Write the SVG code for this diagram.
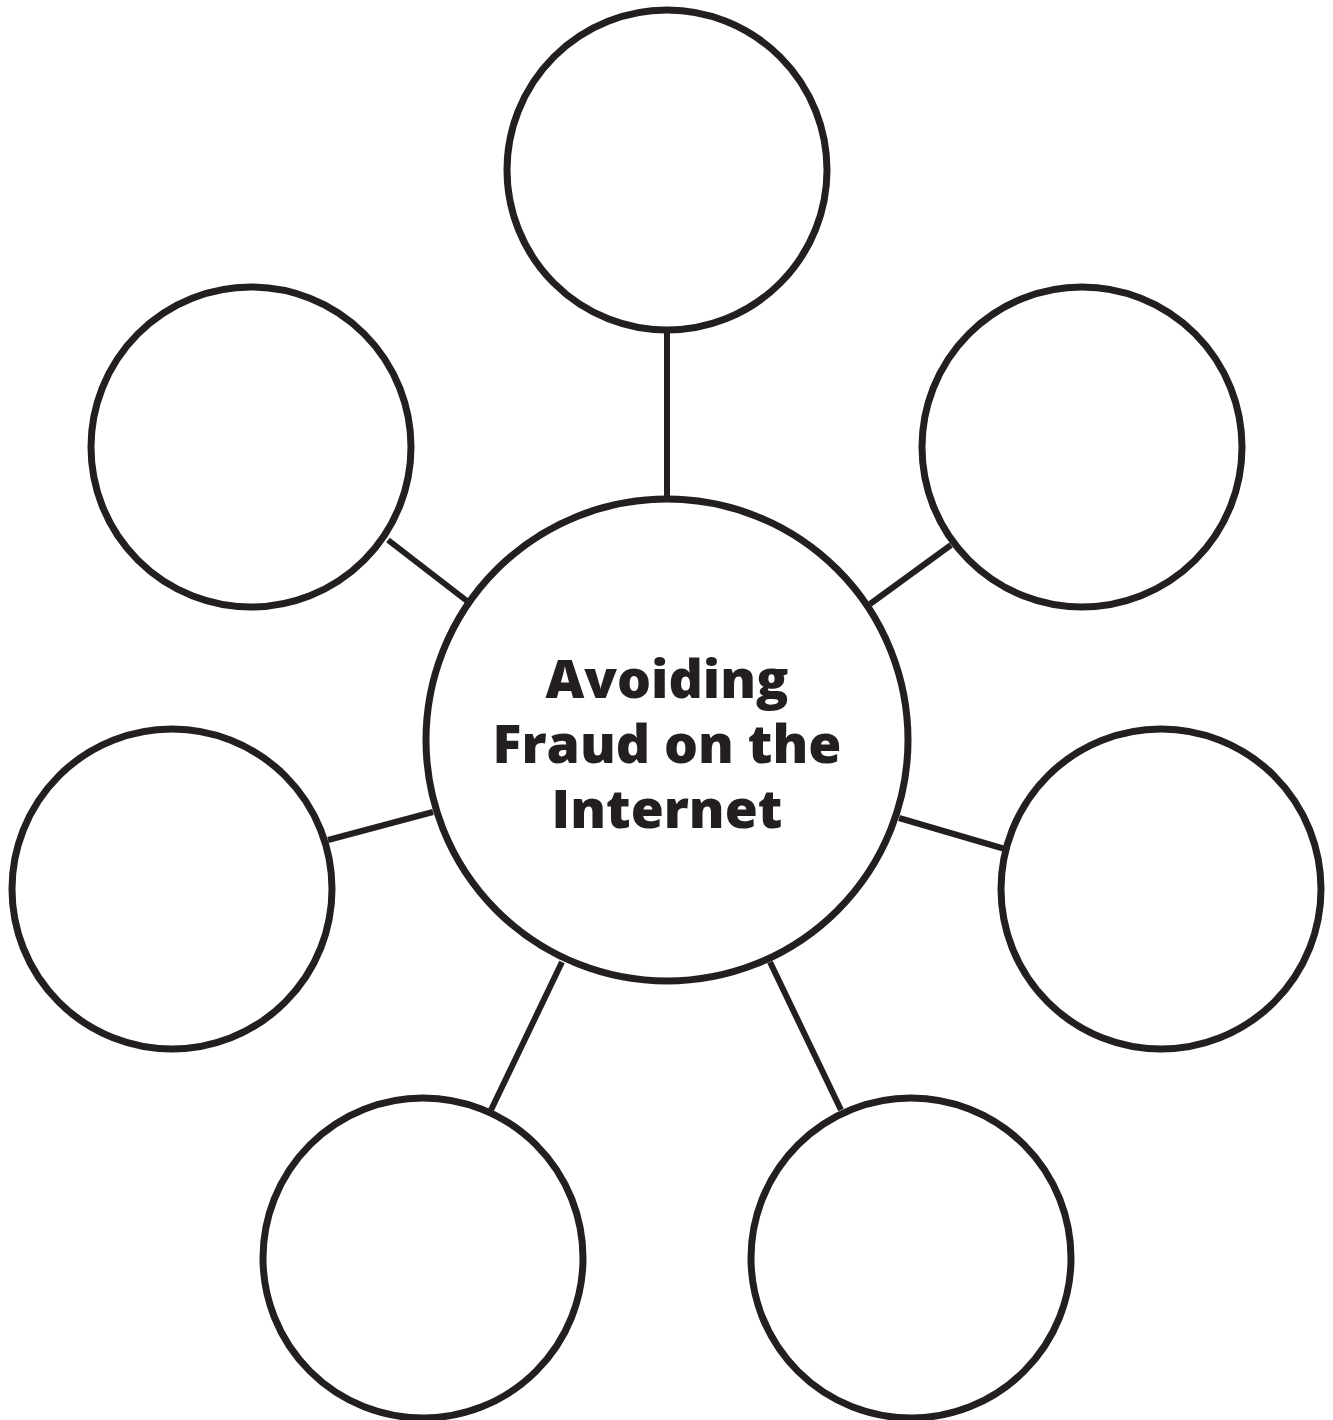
<svg xmlns="http://www.w3.org/2000/svg" width="1333" height="1420" viewBox="0 0 1333 1420">
<style>
.n{fill:#fff;stroke:#231f20;stroke-width:7}
.c{stroke:#231f20;stroke-width:6;fill:none}
.t{font-family:"Open Sans","Noto Sans",sans-serif;font-weight:800;font-size:53.5px;fill:#231f20;text-anchor:middle}
</style>
<rect width="1333" height="1420" fill="#fff"/>
<g id="connectors">
<line class="c" x1="667" y1="330" x2="667" y2="499"/>
<line class="c" x1="388" y1="540" x2="467" y2="601"/>
<line class="c" x1="870" y1="604" x2="951" y2="545"/>
<line class="c" x1="328" y1="840" x2="433" y2="812"/>
<line class="c" x1="899" y1="818" x2="1005" y2="849"/>
<line class="c" x1="491" y1="1110" x2="562" y2="962"/>
<line class="c" x1="770" y1="962" x2="841" y2="1110"/>
</g>
<g id="center"><circle class="n" cx="667" cy="740" r="241"/>
<text class="t" x="667" y="698">Avoiding</text>
<text class="t" x="667" y="763">Fraud on the</text>
<text class="t" x="667" y="828">Internet</text></g>
<g id="n-top"><circle class="n" cx="667" cy="170" r="160"/></g>
<g id="n-upper-left"><circle class="n" cx="251" cy="447" r="160"/></g>
<g id="n-upper-right"><circle class="n" cx="1082" cy="447" r="160"/></g>
<g id="n-mid-left"><circle class="n" cx="172" cy="889" r="160"/></g>
<g id="n-mid-right"><circle class="n" cx="1161" cy="889" r="160"/></g>
<g id="n-bottom-left"><circle class="n" cx="423" cy="1258" r="160"/></g>
<g id="n-bottom-right"><circle class="n" cx="911" cy="1258" r="160"/></g>
</svg>
